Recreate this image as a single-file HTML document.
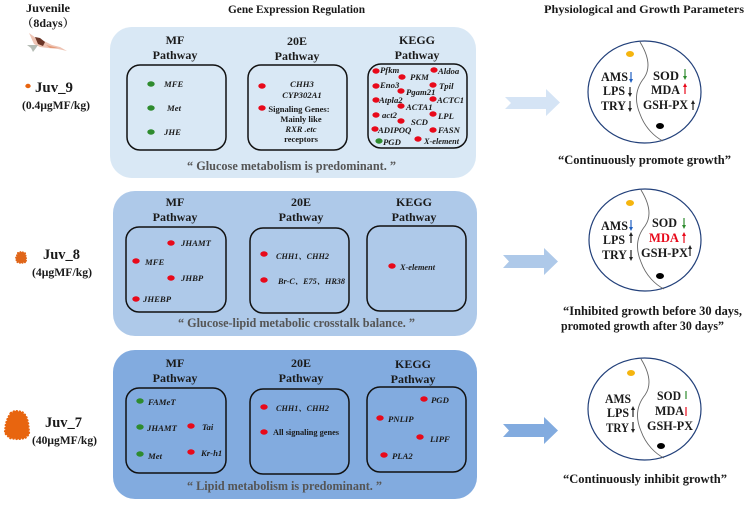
<!DOCTYPE html>
<html><head><meta charset="utf-8"><style>
html,body{margin:0;padding:0;background:#fff}
svg{display:block;filter:blur(.3px)}
text{font-family:"Liberation Serif","Noto Serif CJK SC",serif;font-weight:bold;fill:#1a1a1a}
.h{font-size:12px;text-anchor:middle}
.g{font-size:8.7px;font-style:italic}
.c{font-size:8.500px;text-anchor:middle}
.q{font-size:12.500px;fill:#555}
.p{font-size:12px}
.t{font-size:12.500px}
.o{font-size:12.500px}
.box{fill:none;stroke:#111;stroke-width:1.5}
.r{fill:#e8091a}.gr{fill:#2e8b2e}
.cir{fill:#fff;stroke:#22407a;stroke-width:1.2}
.cv{fill:none;stroke:#666;stroke-width:.9}
.l{stroke-width:1.2}
</style></head><body>
<svg width="747" height="506" viewBox="0 0 747 506" xmlns="http://www.w3.org/2000/svg">
<defs>
<marker id="k" markerWidth="4" markerHeight="4" refX="1" refY="2" orient="auto" markerUnits="userSpaceOnUse"><path d="M0 0L4 2L0 4Z" fill="#222"/></marker>
<marker id="b" markerWidth="4" markerHeight="4" refX="1" refY="2" orient="auto" markerUnits="userSpaceOnUse"><path d="M0 0L4 2L0 4Z" fill="#1f5fc0"/></marker>
<marker id="n" markerWidth="4" markerHeight="4" refX="1" refY="2" orient="auto" markerUnits="userSpaceOnUse"><path d="M0 0L4 2L0 4Z" fill="#2e8b2e"/></marker>
<marker id="d" markerWidth="4" markerHeight="4" refX="1" refY="2" orient="auto" markerUnits="userSpaceOnUse"><path d="M0 0L4 2L0 4Z" fill="#e8091a"/></marker>
</defs>

<!-- headers -->
<text x="26" y="12" class="p" textLength="44" lengthAdjust="spacingAndGlyphs">Juvenile</text>
<text x="48" y="27" class="p" text-anchor="middle">（8days）</text>
<text x="228" y="13" style="font-size:12px" textLength="137" lengthAdjust="spacingAndGlyphs">Gene Expression Regulation</text>
<text x="544" y="13" style="font-size:12px" textLength="200" lengthAdjust="spacingAndGlyphs">Physiological and Growth Parameters</text>

<!-- shrimp -->
<path d="M29 33L36 38L44 41L52 45L60 47L67 51L58 49L48 48L40 47L34 44Z" fill="#eec4b4"/>
<path d="M35 37L40 38L45 42L43 46L38 44Z" fill="#6b3526"/>
<path d="M46 45L58 48L50 48Z" fill="#e59a78"/>
<path d="M27 45L38 45L36 48L33 52L31 48Z" fill="#b5bcb5"/>

<!-- blobs -->
<ellipse cx="28" cy="86" rx="2.7" ry="2.2" fill="#e8640f"/>
<path d="M18 253L21 252L25 253L26 258L26 262L21 263L17 262L16 258Z" fill="#e0661a" stroke="#e0661a" stroke-width="2" stroke-linecap="round" stroke-dasharray="0.1 2.400"/>
<path d="M18 253L21 252L25 253L26 258L26 262L21 263L17 262L16 258Z" fill="#e0661a"/>
<path d="M11 413L15 411L22 412L26 416L28 423L29 434L25 438L18 439L10 438L5 433L6 424L8 418Z" fill="#e8650f" stroke="#e8650f" stroke-width="2.500" stroke-linecap="round" stroke-dasharray="0.1 3"/>

<text x="35" y="92" style="font-size:14.500px" textLength="38" lengthAdjust="spacingAndGlyphs">Juv_9</text>
<text x="22" y="109" style="font-size:11.500px" textLength="68" lengthAdjust="spacingAndGlyphs">(0.4μgMF/kg)</text>
<text x="43" y="259" style="font-size:14.500px" textLength="37" lengthAdjust="spacingAndGlyphs">Juv_8</text>
<text x="32" y="276" style="font-size:11.500px" textLength="60" lengthAdjust="spacingAndGlyphs">(4μgMF/kg)</text>
<text x="45" y="427" style="font-size:14.500px" textLength="37" lengthAdjust="spacingAndGlyphs">Juv_7</text>
<text x="32" y="444" style="font-size:11.500px" textLength="65" lengthAdjust="spacingAndGlyphs">(40μgMF/kg)</text>

<!-- panels -->
<rect x="110" y="27" width="366" height="151" rx="22" fill="#d9e8f5"/>
<rect x="113" y="191" width="364" height="145" rx="22" fill="#aec9e9"/>
<rect x="113" y="350" width="364" height="149" rx="22" fill="#82abdf"/>

<!-- panel 1 -->
<text x="175" y="44" class="h">MF</text><text x="175" y="59" class="h">Pathway</text>
<text x="297" y="45" class="h">20E</text><text x="297" y="60" class="h">Pathway</text>
<text x="417" y="44" class="h">KEGG</text><text x="417" y="59" class="h">Pathway</text>
<rect x="127" y="65" width="99" height="85" rx="13" class="box"/>
<rect x="248" y="65" width="99" height="85" rx="13" class="box"/>
<rect x="368" y="64" width="99" height="84" rx="13" class="box"/>
<ellipse cx="151" cy="84" rx="3.7" ry="2.7" class="gr"/><ellipse cx="151" cy="108" rx="3.7" ry="2.7" class="gr"/><ellipse cx="151" cy="132" rx="3.7" ry="2.7" class="gr"/>
<text x="164" y="87" class="g">MFE</text><text x="167" y="111" class="g">Met</text><text x="164" y="135" class="g">JHE</text>
<ellipse cx="262" cy="86" rx="3.7" ry="2.7" class="r"/><ellipse cx="262" cy="108" rx="3.7" ry="2.7" class="r"/>
<text x="302" y="87" class="g" text-anchor="middle">CHH3</text>
<text x="302" y="98" class="g" text-anchor="middle">CYP302A1</text>
<text x="299" y="112" class="c">Signaling Genes:</text>
<text x="301" y="122" class="c">Mainly like</text>
<text x="301" y="132" class="c"><tspan font-style="italic">RXR .etc</tspan></text>
<text x="301" y="142" class="c">receptors</text>
<g class="r">
<ellipse cx="376" cy="71" rx="3.6" ry="2.7"/><ellipse cx="402" cy="77" rx="3.6" ry="2.7"/><ellipse cx="434" cy="70" rx="3.6" ry="2.7"/>
<ellipse cx="376" cy="86" rx="3.6" ry="2.7"/><ellipse cx="401" cy="91" rx="3.6" ry="2.7"/><ellipse cx="433" cy="85" rx="3.6" ry="2.7"/>
<ellipse cx="376" cy="100" rx="3.6" ry="2.7"/><ellipse cx="401" cy="106" rx="3.6" ry="2.7"/><ellipse cx="433" cy="99" rx="3.6" ry="2.7"/>
<ellipse cx="376" cy="115" rx="3.6" ry="2.7"/><ellipse cx="401" cy="121" rx="3.6" ry="2.7"/><ellipse cx="433" cy="114" rx="3.6" ry="2.7"/>
<ellipse cx="375" cy="129" rx="3.6" ry="2.7"/><ellipse cx="433" cy="130" rx="3.6" ry="2.7"/><ellipse cx="418" cy="139" rx="3.6" ry="2.7"/>
</g>
<ellipse cx="379" cy="141" rx="3.6" ry="2.7" class="gr"/>
<text x="380" y="73" class="g">Pfkm</text><text x="410" y="80" class="g">PKM</text><text x="438" y="74" class="g">Aldoa</text>
<text x="380" y="88" class="g">Eno3</text><text x="406" y="95" class="g">Pgam21</text><text x="439" y="89" class="g">Tpil</text>
<text x="379" y="103" class="g">Atpla2</text><text x="406" y="110" class="g">ACTA1</text><text x="437" y="103" class="g">ACTC1</text>
<text x="382" y="118" class="g">act2</text><text x="411" y="125" class="g">SCD</text><text x="438" y="119" class="g">LPL</text>
<text x="378" y="133" class="g">ADIPOQ</text><text x="438" y="133" class="g">FASN</text>
<text x="383" y="145" class="g">PGD</text><text x="424" y="144" class="g" textLength="35" lengthAdjust="spacingAndGlyphs">X-element</text>
<text x="187" y="170" class="q" textLength="209" lengthAdjust="spacingAndGlyphs">“ Glucose metabolism is predominant. ”</text>

<!-- panel 2 -->
<text x="175" y="206" class="h">MF</text><text x="175" y="221" class="h">Pathway</text>
<text x="301" y="206" class="h">20E</text><text x="301" y="221" class="h">Pathway</text>
<text x="414" y="206" class="h">KEGG</text><text x="414" y="221" class="h">Pathway</text>
<rect x="126" y="227" width="100" height="85" rx="13" class="box"/>
<rect x="250" y="228" width="99" height="85" rx="13" class="box"/>
<rect x="367" y="226" width="99" height="85" rx="13" class="box"/>
<g class="r">
<ellipse cx="171" cy="243" rx="3.7" ry="2.7"/><ellipse cx="136" cy="261" rx="3.7" ry="2.7"/><ellipse cx="171" cy="278" rx="3.7" ry="2.7"/><ellipse cx="136" cy="299" rx="3.7" ry="2.7"/>
<ellipse cx="264" cy="254" rx="3.7" ry="2.7"/><ellipse cx="264" cy="280" rx="3.7" ry="2.7"/><ellipse cx="392" cy="266" rx="3.7" ry="2.7"/>
</g>
<text x="181" y="246" class="g">JHAMT</text><text x="145" y="265" class="g">MFE</text><text x="181" y="281" class="g">JHBP</text><text x="143" y="302" class="g">JHEBP</text>
<text x="276" y="259" class="g" textLength="53" lengthAdjust="spacingAndGlyphs">CHH1、CHH2</text>
<text x="278" y="284" class="g" textLength="67" lengthAdjust="spacingAndGlyphs">Br-C、E75、HR38</text>
<text x="400" y="270" class="g" textLength="35" lengthAdjust="spacingAndGlyphs">X-element</text>
<text x="178" y="327" class="q" textLength="237" lengthAdjust="spacingAndGlyphs">“ Glucose-lipid metabolic crosstalk balance. ”</text>

<!-- panel 3 -->
<text x="175" y="367" class="h">MF</text><text x="175" y="382" class="h">Pathway</text>
<text x="301" y="367" class="h">20E</text><text x="301" y="382" class="h">Pathway</text>
<text x="413" y="368" class="h">KEGG</text><text x="413" y="383" class="h">Pathway</text>
<rect x="126" y="388" width="100" height="85" rx="13" class="box"/>
<rect x="250" y="389" width="99" height="85" rx="13" class="box"/>
<rect x="367" y="387" width="99" height="85" rx="13" class="box"/>
<ellipse cx="140" cy="401" rx="3.7" ry="2.7" class="gr"/><ellipse cx="140" cy="427" rx="3.7" ry="2.7" class="gr"/><ellipse cx="140" cy="454" rx="3.7" ry="2.7" class="gr"/>
<g class="r">
<ellipse cx="191" cy="426" rx="3.7" ry="2.7"/><ellipse cx="191" cy="452" rx="3.7" ry="2.7"/>
<ellipse cx="264" cy="407" rx="3.7" ry="2.7"/><ellipse cx="264" cy="432" rx="3.7" ry="2.7"/>
<ellipse cx="424" cy="399" rx="3.7" ry="2.7"/><ellipse cx="380" cy="418" rx="3.7" ry="2.7"/><ellipse cx="420" cy="437" rx="3.7" ry="2.7"/><ellipse cx="384" cy="455" rx="3.7" ry="2.7"/>
</g>
<text x="148" y="405" class="g">FAMeT</text><text x="147" y="431" class="g">JHAMT</text><text x="148" y="459" class="g">Met</text>
<text x="202" y="430" class="g">Tai</text><text x="201" y="456" class="g">Kr-h1</text>
<text x="276" y="411" class="g" textLength="53" lengthAdjust="spacingAndGlyphs">CHH1、CHH2</text>
<text x="273" y="435" style="font-size:8.500px" textLength="66" lengthAdjust="spacingAndGlyphs">All signaling genes</text>
<text x="431" y="403" class="g">PGD</text><text x="388" y="422" class="g">PNLIP</text><text x="430" y="442" class="g">LIPF</text><text x="392" y="459" class="g">PLA2</text>
<text x="187" y="490" class="q" textLength="195" lengthAdjust="spacingAndGlyphs">“ Lipid metabolism is predominant. ”</text>

<!-- big arrows -->
<path d="M505 97H546V89L560 102.500L546 116V109H505L511 103Z" fill="#d5e4f5"/>
<path d="M503 255H544V248L558 261.500L544 275V268H503L509 261.500Z" fill="#aec9e9"/>
<path d="M503 424H544V417L558 430.500L544 444V437H503L509 430.500Z" fill="#82abdf"/>

<!-- circle 1 -->
<ellipse cx="644.500" cy="92" rx="56.500" ry="51" class="cir"/>
<path d="M640 42C648 55 651 68 644 78C636 88 634 100 640 114C645 128 655 137 663 141" class="cv"/>
<ellipse cx="630" cy="54" rx="4" ry="3" fill="#f5b50f"/><ellipse cx="660" cy="126" rx="4" ry="3" fill="#000"/>
<text x="601" y="81" class="o" textLength="27" lengthAdjust="spacingAndGlyphs">AMS</text>
<text x="603" y="95" class="o" textLength="22" lengthAdjust="spacingAndGlyphs">LPS</text>
<text x="601" y="110" class="o" textLength="25" lengthAdjust="spacingAndGlyphs">TRY</text>
<text x="653" y="80" class="o" textLength="26" lengthAdjust="spacingAndGlyphs">SOD</text>
<text x="651" y="94" class="o" textLength="29" lengthAdjust="spacingAndGlyphs">MDA</text>
<text x="643" y="109" class="o" textLength="45" lengthAdjust="spacingAndGlyphs">GSH-PX</text>
<line x1="631" y1="72" x2="631" y2="80" stroke="#1f5fc0" class="l" marker-end="url(#b)"/>
<line x1="630" y1="87" x2="630" y2="94" stroke="#222" class="l" marker-end="url(#k)"/>
<line x1="630" y1="101" x2="630" y2="109" stroke="#222" class="l" marker-end="url(#k)"/>
<line x1="685" y1="69" x2="685" y2="77" stroke="#2e8b2e" class="l" marker-end="url(#n)"/>
<line x1="685" y1="94" x2="685" y2="86" stroke="#e8091a" class="l" marker-end="url(#d)"/>
<line x1="693" y1="110" x2="693" y2="103" stroke="#222" class="l" marker-end="url(#k)"/>
<text x="558" y="164" style="font-size:12.500px" textLength="173" lengthAdjust="spacingAndGlyphs">“Continuously promote growth”</text>

<!-- circle 2 -->
<ellipse cx="645" cy="240" rx="56" ry="51" class="cir"/>
<path d="M641 190C649 203 652 216 645 226C637 236 635 248 641 262C646 276 656 285 664 289" class="cv"/>
<ellipse cx="630" cy="203" rx="4" ry="3" fill="#f5b50f"/><ellipse cx="660" cy="276" rx="4" ry="3" fill="#000"/>
<text x="601" y="230" class="o" textLength="27" lengthAdjust="spacingAndGlyphs">AMS</text>
<text x="603" y="244" class="o" textLength="22" lengthAdjust="spacingAndGlyphs">LPS</text>
<text x="602" y="259" class="o" textLength="25" lengthAdjust="spacingAndGlyphs">TRY</text>
<text x="652" y="227" class="o" textLength="25" lengthAdjust="spacingAndGlyphs">SOD</text>
<text x="649" y="242" class="o" style="fill:#e8091a" textLength="30" lengthAdjust="spacingAndGlyphs">MDA</text>
<text x="641" y="257" class="o" textLength="47" lengthAdjust="spacingAndGlyphs">GSH-PX</text>
<line x1="631" y1="220" x2="631" y2="228" stroke="#1f5fc0" class="l" marker-end="url(#b)"/>
<line x1="631" y1="243" x2="631" y2="235" stroke="#222" class="l" marker-end="url(#k)"/>
<line x1="631" y1="250" x2="631" y2="258" stroke="#222" class="l" marker-end="url(#k)"/>
<line x1="684" y1="218" x2="684" y2="226" stroke="#2e8b2e" class="l" marker-end="url(#n)"/>
<line x1="684" y1="243" x2="684" y2="235" stroke="#e8091a" class="l" marker-end="url(#d)"/>
<line x1="690" y1="256" x2="690" y2="248" stroke="#222" class="l" marker-end="url(#k)"/>
<text x="563" y="315" style="font-size:12.500px" textLength="179" lengthAdjust="spacingAndGlyphs">“Inhibited growth before 30 days,</text>
<text x="561" y="330" style="font-size:12.500px" textLength="163" lengthAdjust="spacingAndGlyphs">promoted growth after 30 days”</text>

<!-- circle 3 -->
<ellipse cx="644.500" cy="409" rx="56.500" ry="51" class="cir"/>
<path d="M641 359C649 372 652 385 645 395C637 405 635 417 641 431C646 445 656 454 664 458" class="cv"/>
<ellipse cx="631" cy="373" rx="4" ry="3" fill="#f5b50f"/><ellipse cx="661" cy="446" rx="4" ry="3" fill="#000"/>
<text x="605" y="403" class="o" textLength="26" lengthAdjust="spacingAndGlyphs">AMS</text>
<text x="607" y="417" class="o" textLength="22" lengthAdjust="spacingAndGlyphs">LPS</text>
<text x="606" y="432" class="o" textLength="23" lengthAdjust="spacingAndGlyphs">TRY</text>
<text x="657" y="400" class="o" textLength="24" lengthAdjust="spacingAndGlyphs">SOD</text>
<text x="655" y="415" class="o" textLength="29" lengthAdjust="spacingAndGlyphs">MDA</text>
<text x="647" y="430" class="o" textLength="46" lengthAdjust="spacingAndGlyphs">GSH-PX</text>
<line x1="633" y1="417" x2="633" y2="409" stroke="#222" class="l" marker-end="url(#k)"/>
<line x1="633" y1="422" x2="633" y2="430" stroke="#222" class="l" marker-end="url(#k)"/>
<line x1="686" y1="391" x2="686" y2="399" stroke="#2e8b2e" class="l"/>
<line x1="686" y1="407" x2="686" y2="416" stroke="#e8091a" class="l"/>
<text x="563" y="483" style="font-size:12.500px" textLength="164" lengthAdjust="spacingAndGlyphs">“Continuously inhibit growth”</text>
</svg>
</body></html>
